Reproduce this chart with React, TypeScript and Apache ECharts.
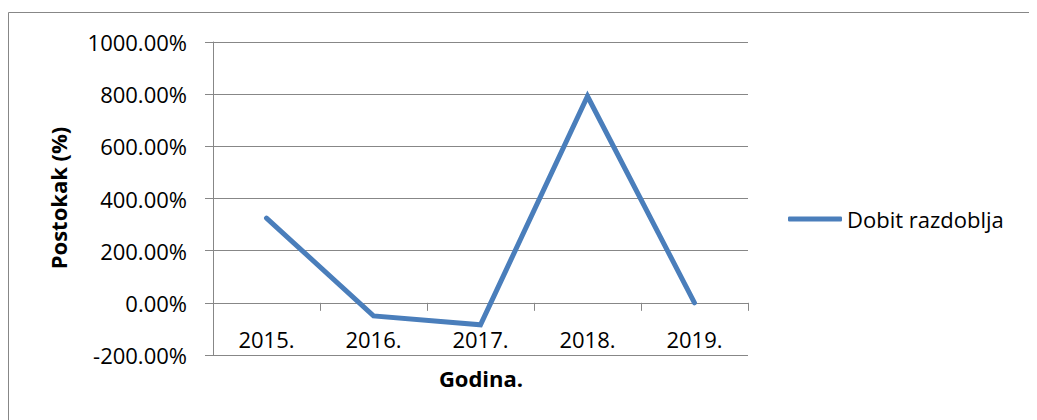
import React, { useEffect, useRef } from "react";
import * as echarts from "echarts";

const years = ["2015.", "2016.", "2017.", "2018.", "2019."];
const dobitRazdoblja = [325, -50, -84, 792, 0];
const seriesName = "Dobit razdoblja";
const xTitle = "Godina.";
const yTitle = "Postokak (%)";
const yMin = -200;
const yMax = 1000;
const yStep = 200;

export default function App() {
  const ref = useRef<HTMLDivElement>(null);
  useEffect(() => {
    const chart = echarts.init(ref.current!, null, { renderer: "svg" });
    const font = "'Open Sans', sans-serif";
    const gray = "#878787";
    const fs = 22;
    chart.setOption({
      animation: false,
      textStyle: { fontFamily: font },
      grid: { left: 205, top: 34, width: 535, height: 313, containLabel: false },
      legend: {
        left: 775,
        top: 195,
        orient: "vertical",
        itemWidth: 54,
        itemHeight: 5,
        icon: "roundRect",
        textStyle: { fontFamily: font, fontSize: fs, color: "#000" },
        data: [{ name: seriesName }],
      },
      xAxis: {
        type: "category",
        data: years,
        boundaryGap: true,
        axisLine: { onZero: true, lineStyle: { color: gray, width: 1 } },
        axisTick: { show: true, length: 8, lineStyle: { color: gray } },
        axisLabel: { margin: -27, fontSize: fs, color: "#000", fontFamily: font },
        splitLine: { show: false },
      },
      yAxis: {
        type: "value",
        min: yMin,
        max: yMax,
        interval: yStep,
        axisLine: { show: true, lineStyle: { color: gray, width: 1 } },
        axisTick: { show: true, length: 8, lineStyle: { color: gray } },
        axisLabel: {
          margin: 26,
          fontSize: fs,
          color: "#000",
          fontFamily: font,
          formatter: (v: number) => `${v.toFixed(2)}%`,
        },
        splitLine: { show: true, lineStyle: { color: gray, width: 1 } },
      },
      series: [
        {
          name: seriesName,
          type: "line",
          data: dobitRazdoblja,
          symbol: "none",
          color: "#4a7ebb",
          lineStyle: { color: "#4a7ebb", width: 5, cap: "round", join: "miter" },
        },
      ],
      graphic: [
        {
          type: "rect",
          shape: { x: 0.5, y: 4.5, width: 1100, height: 500 },
          style: { fill: "none", stroke: gray, lineWidth: 1 },
          silent: true,
        },
        {
          type: "text",
          x: 50,
          y: 190,
          rotation: Math.PI / 2,
          style: {
            text: yTitle,
            fontFamily: font,
            fontSize: fs,
            fontWeight: "bold",
            fill: "#000",
            align: "center",
            verticalAlign: "middle",
          },
        },
        {
          type: "text",
          x: 473,
          y: 370,
          style: {
            text: xTitle,
            fontFamily: font,
            fontSize: fs,
            fontWeight: "bold",
            fill: "#000",
            align: "center",
            verticalAlign: "middle",
          },
        },
      ],
    });
    return () => chart.dispose();
  }, []);
  return <div ref={ref} style={{ width: 1029, height: 412 }} />;
}
